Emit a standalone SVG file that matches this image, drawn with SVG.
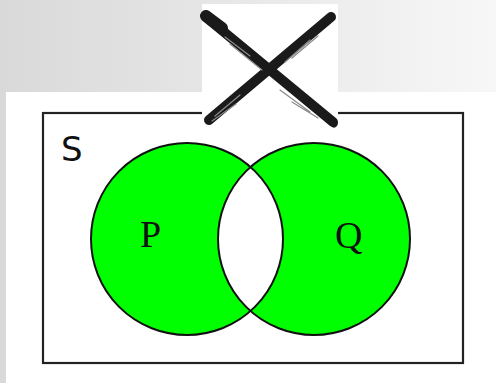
<svg xmlns="http://www.w3.org/2000/svg" width="496" height="383" viewBox="0 0 496 383">
  <defs>
    <linearGradient id="bg" x1="0" y1="0" x2="1" y2="0">
      <stop offset="0" stop-color="#d9d9d9"/>
      <stop offset="1" stop-color="#f7f7f7"/>
    </linearGradient>
    <clipPath id="clipQ">
      <circle cx="314" cy="239" r="96"/>
    </clipPath>
    <style>
      .venn { fill: #00ff00; stroke: none; }
      .outline { fill: none; stroke: #111; stroke-width: 2; }
      .lbl { font-family: "Liberation Serif", "DejaVu Serif", serif; font-size: 38px; fill: #111; }
      .sans { font-family: "DejaVu Sans", "Liberation Sans", sans-serif; font-size: 34px; fill: #111; }
      .brush { fill: none; stroke: #1a1a1a; stroke-linecap: round; }
      .tex { fill: none; stroke: #8a8a8a; stroke-linecap: round; stroke-width: 1.2; }
    </style>
  </defs>
  <rect x="0" y="0" width="496" height="383" fill="url(#bg)"/>
  <rect x="6" y="92" width="490" height="291" fill="#ffffff"/>

  <g id="universe-S">
    <rect x="43" y="113" width="420" height="250" fill="#ffffff" stroke="#222" stroke-width="2.2"/>
    <text class="sans" x="61" y="161">S</text>
  </g>

  <g id="set-P">
    <circle class="venn" cx="187" cy="239" r="96"/>
  </g>
  <g id="set-Q">
    <circle class="venn" cx="314" cy="239" r="96"/>
  </g>
  <g id="intersection">
    <circle cx="187" cy="239" r="96" fill="#ffffff" clip-path="url(#clipQ)"/>
  </g>
  <g id="outlines">
    <circle class="outline" cx="187" cy="239" r="96"/>
    <circle class="outline" cx="314" cy="239" r="96"/>
  </g>
  <g id="labels">
    <text class="lbl" x="140" y="247">P</text>
    <text class="lbl" x="335" y="248">Q</text>
  </g>

  <g id="cross-mark">
    <rect x="202" y="4" width="136" height="126" fill="#ffffff"/>
    <path class="brush" d="M207 18 L333 122" stroke-width="10"/>
    <path class="brush" d="M331 17 L209 120" stroke-width="10"/>
    <path class="brush" d="M206 16 L222 28" stroke-width="12"/>
    <path class="brush" d="M320 112 L334 124" stroke-width="7"/>
    <path class="tex" d="M225 37 L250 56 M230 44 L262 70 M280 90 L310 112 M292 102 L318 118"/>
    <path class="tex" d="M318 36 L292 58 M310 40 L285 62 M240 95 L215 116 M236 104 L212 121"/>
  </g>
</svg>
